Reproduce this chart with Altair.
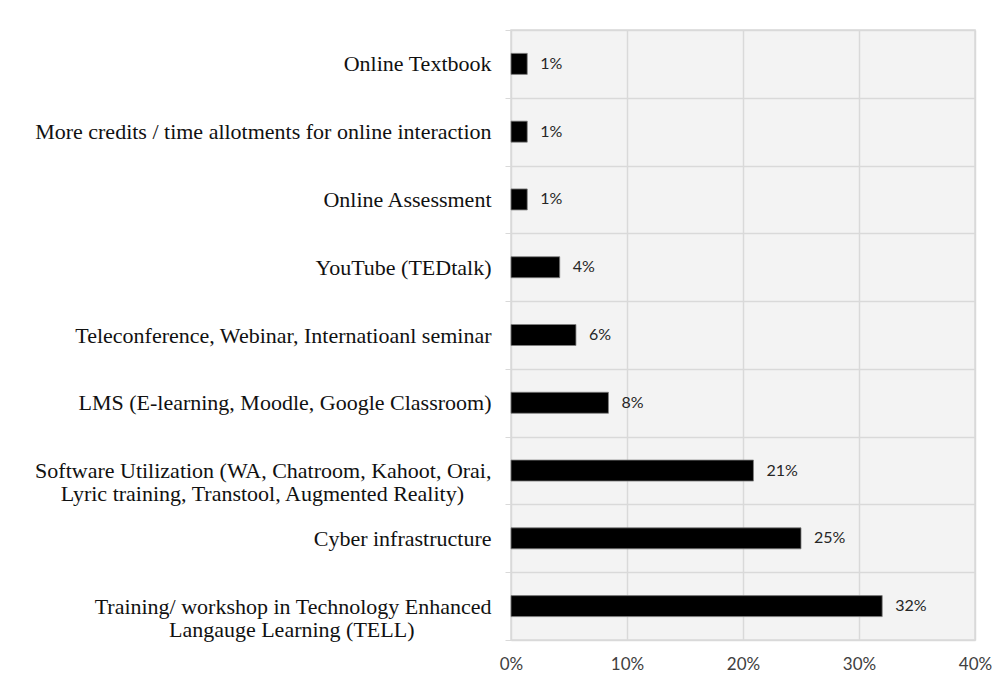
import altair as alt
import pandas as pd

NB = "\u00a0"
ZW = "\u200b"

categories = [
    "Online Textbook",
    "More credits / time allotments for online interaction",
    "Online Assessment ",
    "YouTube (TEDtalk)",
    "Teleconference, Webinar, Internatioanl seminar",
    "LMS (E-learning, Moodle, Google Classroom)",
    "Software Utilization (WA,  Chatroom, Kahoot, Orai,|Lyric training, Transtool, Augmented Reality)" + NB * 5 + ZW,
    "Cyber infrastructure",
    "Training/ workshop in Technology Enhanced|Langauge Learning (TELL)" + NB * 14 + ZW,
]
values = [0.014, 0.014, 0.014, 0.042, 0.056, 0.084, 0.209, 0.250, 0.320]
value_labels = ["1%", "1%", "1%", "4%", "6%", "8%", "21%", "25%", "32%"]
x_ticks = [0, 0.1, 0.2, 0.3, 0.4]

df = pd.DataFrame({"cat": categories, "val": values, "lab": value_labels})

y_enc = alt.Y(
    "cat:N",
    sort=categories,
    title=None,
    scale=alt.Scale(paddingInner=0, paddingOuter=0),
    axis=alt.Axis(
        labelExpr="split(datum.label, '|')",
        labelFont="Liberation Serif",
        labelFontSize=22,
        labelColor="#111111",
        labelLineHeight=23,
        labelPadding=14,
        labelLimit=0,
        tickBand="extent",
        ticks=True,
        tickSize=6,
        tickColor="#d9d9d9",
        grid=True,
        gridColor="#d9d9d9",
        gridWidth=1.5,
        domain=False,
    ),
)

x_enc = alt.X(
    "val:Q",
    title=None,
    scale=alt.Scale(domain=[0, 0.4], nice=False),
    axis=alt.Axis(
        values=x_ticks,
        format=".0%",
        labelFont="Lato",
        labelFontSize=17,
        labelColor="#404040",
        labelPadding=16,
        labelFlush=False,
        ticks=False,
        domain=False,
        grid=True,
        gridColor="#d9d9d9",
        gridWidth=1.5,
    ),
)

bars = alt.Chart(df).mark_bar(
    color="#000000", stroke="#7f7f7f", strokeWidth=0.8, size=21
).encode(x=x_enc, y=y_enc)

text = alt.Chart(df).mark_text(
    align="left", baseline="middle", dx=13, font="Lato", fontSize=16, color="#262626"
).encode(x="val:Q", y=alt.Y("cat:N", sort=categories), text="lab:N")

chart = (
    alt.layer(bars, text)
    .properties(
        width=464,
        height=610,
        autosize=alt.AutoSizeParams(type="none"),
        padding={"left": 503, "top": 22, "right": 20, "bottom": 37},
        background="#ffffff",
    )
    .configure_view(fill="#f3f3f3", stroke="#d9d9d9", strokeWidth=1.5)
)

chart.save("out.html", embed_options={"renderer": "svg", "actions": False})
